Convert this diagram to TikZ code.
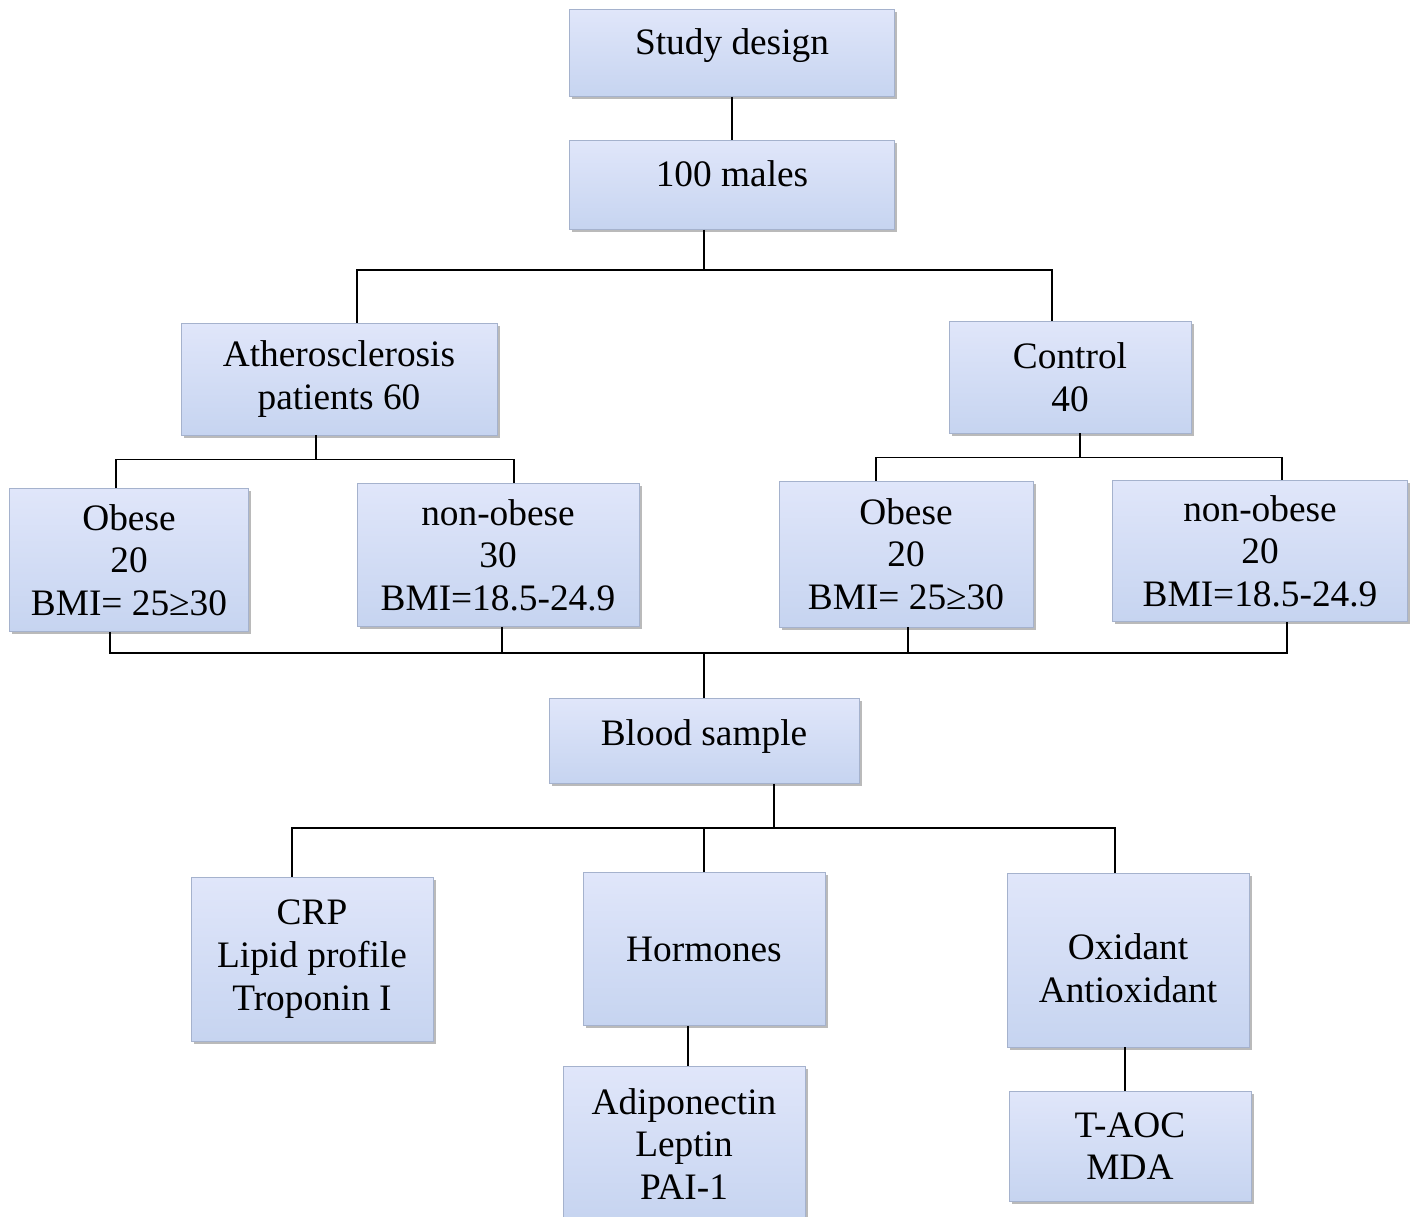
\documentclass[tikz,border=0pt]{standalone}
\usepackage{fontspec}
\setmainfont{Liberation Serif}
\usetikzlibrary{shadows}

\tikzset{
  box/.style={draw={rgb, 255:red, 165; green, 178; blue, 205 }, line width=0.6pt,
    top color={rgb, 255:red, 224; green, 230; blue, 250 },
    bottom color={rgb, 255:red, 198; green, 212; blue, 240 },
    drop shadow={shadow xshift=2pt, shadow yshift=-2pt, fill=black!45, opacity=0.6},
    inner sep=0pt, align=center, font=\fontsize{28}{32}\selectfont},
  link/.style={draw=black, line width=1.3pt}
}

\begin{document}
\begin{tikzpicture}[x=0.75pt,y=0.75pt,yscale=-1,xscale=1]
\useasboundingbox (0,0) rectangle (1410,1217);

% top of the tree
\node [box, minimum width=243.75pt, minimum height=65.25pt, text depth=17pt] (study) at (732,53) {Study design};
\node [box, minimum width=243.75pt, minimum height=66.75pt, text depth=17pt] (males) at (732,185) {100 males};

% groups
\node [box, minimum width=237pt, minimum height=84pt] (athero) at (339,379) {Atherosclerosis\\patients 60};
\node [box, minimum width=181.5pt, minimum height=84pt] (control) at (1070,377) {Control\\40};

% subgroups
\node [box, minimum width=179.25pt, minimum height=107.25pt] (obeseA) at (129,560) {Obese\\20\\BMI= 25≥30};
\node [box, minimum width=211.5pt, minimum height=107.25pt] (nonobeseA) at (498,555) {non-obese\\30\\BMI=18.5-24.9};
\node [box, minimum width=190.5pt, minimum height=109.5pt] (obeseB) at (906,554) {Obese\\20\\BMI= 25≥30};
\node [box, minimum width=221.25pt, minimum height=105.75pt] (nonobeseB) at (1260,551) {non-obese\\20\\BMI=18.5-24.9};

% blood sample and tests
\node [box, minimum width=232.5pt, minimum height=63.75pt, text depth=13pt] (blood) at (704,741) {Blood sample};
\node [box, minimum width=181.5pt, minimum height=123pt] (crp) at (312,959) {CRP\\Lipid profile\\Troponin I};
\node [box, minimum width=181.5pt, minimum height=114.75pt] (horm) at (704,949) {Hormones};
\node [box, minimum width=181.5pt, minimum height=130.5pt, text height=63pt, text depth=0pt] (oxid) at (1128,960) {Oxidant\\Antioxidant};
\node [box, minimum width=181.5pt, minimum height=116.25pt] (adipo) at (684,1144) {Adiponectin\\Leptin\\PAI-1};
\node [box, minimum width=181.5pt, minimum height=82.5pt] (taoc) at (1130,1146) {T-AOC\\MDA};

% connectors
\draw [link] (study.south) -- (males.north);
\draw [link] ([xshift=-21pt]males.south) -- ++(0,40) coordinate (busA);
\draw [link] ([xshift=13.5pt]athero.north) |- (busA) -| ([xshift=-13.5pt]control.north);

\draw [link] ([xshift=-17.25pt]athero.south) -- ++(0,24) coordinate (busB);
\draw [link] ([xshift=-9.75pt]obeseA.north) |- (busB) -| ([xshift=12pt]nonobeseA.north);
\draw [link] ([xshift=7.5pt]control.south) -- ++(0,24) coordinate (busC);
\draw [link] ([xshift=-22.5pt]obeseB.north) |- (busC) -| ([xshift=16.5pt]nonobeseB.north);

\draw [link] ([xshift=-14.25pt]obeseA.south) -- ++(0,21) coordinate (busD) -| ([xshift=20.25pt]nonobeseB.south);
\draw [link] ([xshift=3pt]nonobeseA.south) |- (busD);
\draw [link] ([xshift=1.5pt]obeseB.south) |- (busD);
\draw [link] (blood.north) |- (busD);

\draw [link] ([xshift=52.5pt]blood.south) -- ++(0,44) coordinate (busE);
\draw [link] ([xshift=-15pt]crp.north) |- (busE) -| ([xshift=-9.75pt]oxid.north);
\draw [link] (horm.north) |- (busE);

\draw [link] ([xshift=-12pt]horm.south) -- ([xshift=-12pt]horm.south |- adipo.north);
\draw [link] ([xshift=-2.25pt]oxid.south) -- ([xshift=-2.25pt]oxid.south |- taoc.north);

\end{tikzpicture}
\end{document}
